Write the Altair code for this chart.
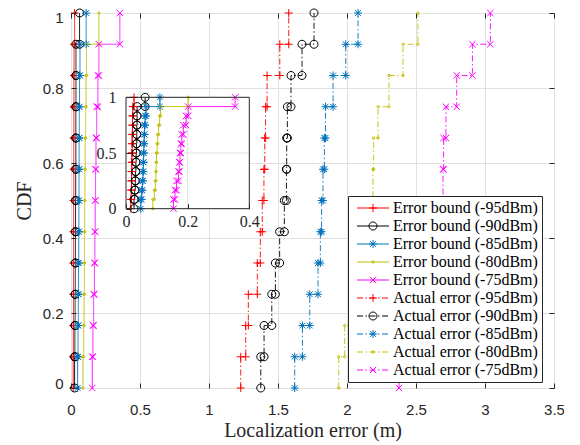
import altair as alt
import pandas as pd

# ---------------- data ----------------
series_names = [
    "Error bound (-95dBm)", "Error bound (-90dBm)", "Error bound (-85dBm)",
    "Error bound (-80dBm)", "Error bound (-75dBm)",
    "Actual error (-95dBm)", "Actual error (-90dBm)", "Actual error (-85dBm)",
    "Actual error (-80dBm)", "Actual error (-75dBm)",
]
kinds = ["Error bound"] * 5 + ["Actual error"] * 5
powers = ["-95dBm", "-90dBm", "-85dBm", "-80dBm", "-75dBm"] * 2

bound_95 = [0.016, 0.017, 0.018, 0.018, 0.019, 0.019, 0.020, 0.020, 0.021, 0.021, 0.022, 0.026]
bound_90 = [0.026, 0.028, 0.030, 0.031, 0.032, 0.033, 0.034, 0.035, 0.035, 0.036, 0.036, 0.062]
bound_85 = [0.048, 0.051, 0.053, 0.055, 0.056, 0.057, 0.058, 0.059, 0.060, 0.062, 0.065, 0.110]
bound_80 = [0.087, 0.092, 0.095, 0.097, 0.098, 0.099, 0.101, 0.103, 0.106, 0.109, 0.112, 0.202]
bound_75 = [0.154, 0.159, 0.164, 0.170, 0.173, 0.175, 0.178, 0.181, 0.186, 0.195, 0.202, 0.354]

actual_95 = [1.230, 1.266, 1.285, 1.350, 1.372, 1.386, 1.398, 1.404, 1.410, 1.421, 1.513, 1.578]
actual_90 = [1.375, 1.399, 1.455, 1.481, 1.512, 1.546, 1.561, 1.563, 1.568, 1.594, 1.674, 1.761]
actual_85 = [1.621, 1.677, 1.730, 1.790, 1.807, 1.816, 1.826, 1.836, 1.844, 1.899, 1.991, 2.080]
actual_80 = [1.940, 1.983, 2.030, 2.080, 2.120, 2.160, 2.188, 2.193, 2.225, 2.304, 2.406, 2.514]
actual_75 = [2.377, 2.450, 2.520, 2.580, 2.630, 2.670, 2.696, 2.700, 2.717, 2.795, 2.909, 3.039]

series_values = [bound_95, bound_90, bound_85, bound_80, bound_75,
                 actual_95, actual_90, actual_85, actual_80, actual_75]

x_ticks = [0, 0.5, 1, 1.5, 2, 2.5, 3, 3.5]
y_ticks = [0, 0.2, 0.4, 0.6, 0.8, 1]
inset_x_ticks = [0, 0.2, 0.4]
inset_y_ticks = [0, 0.5, 1]

# ---------------- styles ----------------
power_colors = {"-95dBm": "#FF0000", "-90dBm": "#000000", "-85dBm": "#0072BD",
                "-80dBm": "#BFBF00", "-75dBm": "#FF00FF"}
U = 4.0  # pixels per path unit at size 64
glyphs = {
    "-95dBm": "M-1,0H1M0,-1V1",
    "-90dBm": "M-1,0A1,1,0,1,1,1,0A1,1,0,1,1,-1,0",
    "-85dBm": "M-1,0H1M0,-1V1M-0.72,-0.72L0.72,0.72M-0.72,0.72L0.72,-0.72",
    "-80dBm": "M-0.3,0A0.3,0.3,0,1,1,0.3,0A0.3,0.3,0,1,1,-0.3,0",
    "-75dBm": "M-0.8,-0.8L0.8,0.8M-0.8,0.8L0.8,-0.8",
}
dash_dot = [6, 2.5, 1.5, 2.5]


def seg_path(pattern, half):
    out, pos, i = [], -half, 0
    while pos < half - 1e-9:
        seg = pattern[i % len(pattern)]
        end = min(pos + seg, half)
        if i % 2 == 0:
            out.append(f"M{pos / U:.3f},0H{end / U:.3f}")
        pos, i = end, i + 1
    return "".join(out)


legend_paths = []
for k, p in zip(kinds, powers):
    line = seg_path([32], 16) if k == "Error bound" else seg_path(dash_dot, 16)
    legend_paths.append(line + glyphs[p])

series_colors = [power_colors[p] for p in powers]

rows = []
for name, kind, pw, vals in zip(series_names, kinds, powers, series_values):
    v = sorted(vals)
    n = len(v)
    for k, xv in enumerate(v):
        rows.append(dict(series=name, kind=kind, power=pw, x=xv, y=k / n, ord=2 * k))
        rows.append(dict(series=name, kind=kind, power=pw, x=xv, y=(k + 1) / n, ord=2 * k + 1))
df = pd.DataFrame(rows)

W, H = 483, 375
PAD_TOP = 5
AX = "#262626"
GRID = "#e0e0e0"
SANS = "Liberation Sans"
SERIF = "Liberation Serif"

# inset box, in plot pixels (page minus plot origin)
INS_L, INS_R = 126 - 71, 249.3 - 71
INS_T, INS_B = 97.3 - (8 + PAD_TOP), 208.7 - (8 + PAD_TOP)

color_scale = alt.Scale(domain=series_names, range=series_colors)
dash_scale = alt.Scale(domain=["Error bound", "Actual error"], range=[[1, 0], dash_dot])

legend_spec = alt.Legend(title=None, orient="none", legendX=277, legendY=183, padding=4, rowPadding=2,
                         symbolSize=64, symbolStrokeWidth=1, symbolOffset=13, labelOffset=12,
                         labelFont=SERIF, labelFontSize=16, labelColor="#000000", labelLimit=400,
                         strokeColor=AX, fillColor="white", cornerRadius=0)
color_enc = alt.Color("series:N", scale=color_scale, legend=legend_spec)

# ---------------- main plot ----------------
main_x = alt.X("x:Q", scale=alt.Scale(domain=[x_ticks[0], x_ticks[-1]], nice=False, zero=False),
               axis=alt.Axis(values=x_ticks, format="~g", title="Localization error (m)", orient="bottom",
                             offset=-5, tickSize=5, domain=False, grid=False, labelPadding=14,
                             labelFlush=False, titlePadding=3, labelFont=SANS, labelFontSize=15,
                             labelColor=AX, tickColor=AX, titleFont=SERIF, titleFontSize=20,
                             titleFontWeight="normal", titleColor=AX, zindex=1))
main_y = alt.Y("y:Q", scale=alt.Scale(domain=[y_ticks[0], y_ticks[-1]], nice=False, zero=False),
               axis=alt.Axis(values=y_ticks, format="~g", title="CDF", orient="left",
                             offset=-5, tickSize=5, domain=False, grid=False, labelPadding=8,
                             labelFlush=True, labelFlushOffset=3,
                             titlePadding=8, labelFont=SANS, labelFontSize=15,
                             labelColor=AX, tickColor=AX, titleFont=SERIF, titleFontSize=20,
                             titleFontWeight="normal", titleColor=AX, zindex=1))

base = alt.Chart(df)
legend_layer = base.transform_filter("false").mark_point(filled=False, opacity=1, size=64, strokeWidth=1).encode(
    x=main_x, y=main_y,
    color=color_enc,
    shape=alt.Shape("series:N", scale=alt.Scale(domain=series_names, range=legend_paths), legend=legend_spec),
)
main_lines = base.mark_line(strokeWidth=0.9, interpolate="linear").encode(
    x="x:Q", y="y:Q",
    color=color_enc,
    strokeDash=alt.StrokeDash("kind:N", scale=dash_scale, legend=None),
    detail="series:N", order="ord:Q",
)
main_layers = [legend_layer, main_lines]
for p in powers[:5]:
    main_layers.append(
        base.transform_filter(alt.datum.power == p)
        .mark_point(shape=glyphs[p], size=64, filled=False, opacity=1, strokeWidth=1)
        .encode(x="x:Q", y="y:Q", color=color_enc)
    )
main = alt.layer(*main_layers)

# ---------------- inset ----------------
inset_df = df[df["kind"] == "Error bound"]
ins_box = pd.DataFrame({"x": [inset_x_ticks[0]], "x2": [inset_x_ticks[-1]],
                        "y": [inset_y_ticks[0]], "y2": [inset_y_ticks[-1]]})
ins_xscale = alt.Scale(domain=[inset_x_ticks[0], inset_x_ticks[-1]], range=[INS_L, INS_R], nice=False, zero=False)
ins_yscale = alt.Scale(domain=[inset_y_ticks[0], inset_y_ticks[-1]], range=[INS_B, INS_T], nice=False, zero=False)
ins_x = alt.X("x:Q", scale=ins_xscale,
              axis=alt.Axis(values=inset_x_ticks, format="~g", title=None, orient="bottom",
                            offset=-(H - INS_B) - 5, tickSize=5, domain=False, grid=False,
                            labelPadding=4.5, labelFlush=False, labelFont=SERIF, labelFontSize=16,
                            labelColor=AX, tickColor=AX, zindex=1))
ins_y = alt.Y("y:Q", scale=ins_yscale,
              axis=alt.Axis(values=inset_y_ticks, format="~g", title=None, orient="left",
                            offset=-(INS_L + 5), tickSize=5, domain=False, grid=False,
                            labelPadding=10, labelFont=SERIF, labelFontSize=16,
                            labelColor=AX, tickColor=AX, zindex=1))

ins_bg = alt.Chart(ins_box).mark_rect(fill="white", stroke=None).encode(x=ins_x, x2="x2:Q", y=ins_y, y2="y2:Q")
ins_gx = alt.Chart(pd.DataFrame({"x": inset_x_ticks[1:-1]})).mark_rule(color=GRID, strokeWidth=1).encode(
    x="x:Q", y=alt.datum(inset_y_ticks[0]), y2=alt.datum(inset_y_ticks[-1]))
ins_gy = alt.Chart(pd.DataFrame({"y": inset_y_ticks[1:-1]})).mark_rule(color=GRID, strokeWidth=1).encode(
    y="y:Q", x=alt.datum(inset_x_ticks[0]), x2=alt.datum(inset_x_ticks[-1]))
ins_base = alt.Chart(inset_df)
ins_layers = [ins_bg, ins_gx, ins_gy,
              ins_base.mark_line(strokeWidth=0.9).encode(
                  x="x:Q", y="y:Q", color=color_enc, detail="series:N", order="ord:Q")]
for p in powers[:5]:
    ins_layers.append(
        ins_base.transform_filter(alt.datum.power == p)
        .mark_point(shape=glyphs[p], size=64, filled=False, opacity=1, strokeWidth=1)
        .encode(x="x:Q", y="y:Q", color=color_enc)
    )
ins_layers.append(alt.Chart(ins_box).mark_rect(fill=None, fillOpacity=0, stroke=AX, strokeWidth=1).encode(
    x="x:Q", x2="x2:Q", y="y:Q", y2="y2:Q"))
inset = alt.layer(*ins_layers)

# ---------------- top / right ticks + grid ----------------
tick_layer = alt.Chart(pd.DataFrame({"tx": [x_ticks[0]], "ty": [y_ticks[0]]})).mark_point(opacity=0).encode(
    x=alt.X("tx:Q", scale=alt.Scale(domain=[x_ticks[0], x_ticks[-1]], nice=False, zero=False),
            axis=alt.Axis(orient="top", values=x_ticks, labels=False, domain=False, grid=True,
                          gridColor=GRID, gridWidth=1, tickSize=5, offset=-5, title=None,
                          tickColor=AX, zindex=0)),
    y=alt.Y("ty:Q", scale=alt.Scale(domain=[y_ticks[0], y_ticks[-1]], nice=False, zero=False),
            axis=alt.Axis(orient="right", values=y_ticks, labels=False, domain=False, grid=True,
                          gridColor=GRID, gridWidth=1, tickSize=5, offset=-5, title=None,
                          tickColor=AX, zindex=0)),
)

chart = (
    alt.layer(tick_layer, main, inset)
    .resolve_scale(x="independent", y="independent")
    .properties(width=W, height=H, background="white",
                padding={"left": 63, "top": PAD_TOP, "right": 10, "bottom": 56},
                autosize=alt.AutoSizeParams(type="none"))
    .configure_view(stroke=AX, strokeWidth=1)
)

chart.save("out.html", embed_options={"renderer": "svg", "actions": False})
